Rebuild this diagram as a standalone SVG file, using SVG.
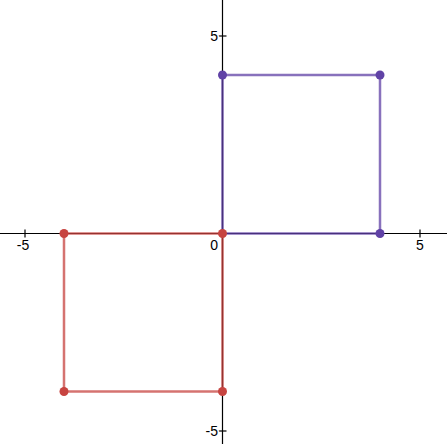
<svg xmlns="http://www.w3.org/2000/svg" width="447" height="444" viewBox="0 0 447 444">
<style>
.axis{stroke:#000;stroke-width:1.2;fill:none}
.lbl{font-family:"Liberation Sans",Arial,sans-serif;font-size:14px;fill:#000}
.lblw{font-family:"Liberation Sans",Arial,sans-serif;font-size:14px;fill:#000;stroke:#fff;stroke-width:3;paint-order:stroke}
.purple{stroke:#6042a6;stroke-opacity:0.75;stroke-width:2.5;fill:none}
.red{stroke:#c74440;stroke-opacity:0.75;stroke-width:2.5;fill:none}
.pdot{fill:#6042a6}
.rdot{fill:#c74440}
</style>
<rect width="447" height="444" fill="#fff"/>
<g id="axes">
<line class="axis" x1="0" y1="233.5" x2="447" y2="233.5"/>
<line class="axis" x1="222.5" y1="0" x2="222.5" y2="444"/>
<line class="axis" x1="25" y1="229.5" x2="25" y2="237.5"/>
<line class="axis" x1="420" y1="229.5" x2="420" y2="237.5"/>
<line class="axis" x1="218.5" y1="36" x2="226.5" y2="36"/>
<line class="axis" x1="218.5" y1="431" x2="226.5" y2="431"/>
<text class="lblw" x="23" y="250" text-anchor="middle">-5</text>
<text class="lblw" x="420" y="250" text-anchor="middle">5</text>
<text class="lblw" x="218" y="41" text-anchor="end">5</text>
<text class="lblw" x="218" y="436" text-anchor="end">-5</text>
<text class="lblw" x="218" y="250" text-anchor="end">0</text>
</g>
<g id="connectors">
<polygon class="purple" points="222.5,233.5 380,233.5 380,75 222.5,75"/>
<polygon class="red" points="64,233.5 222.5,233.5 222.5,391.5 64,391.5"/>
</g>
<g id="purple-square">
<circle class="pdot" cx="222.5" cy="75" r="4.5"/>
<circle class="pdot" cx="380" cy="75" r="4.5"/>
<circle class="pdot" cx="380" cy="233.5" r="4.5"/>
</g>
<g id="red-square">
<circle class="rdot" cx="64" cy="233.5" r="4.5"/>
<circle class="rdot" cx="64" cy="391.5" r="4.5"/>
<circle class="rdot" cx="222.5" cy="391.5" r="4.5"/>
<circle class="rdot" cx="222.5" cy="233.5" r="4.5"/>
</g>
</svg>
